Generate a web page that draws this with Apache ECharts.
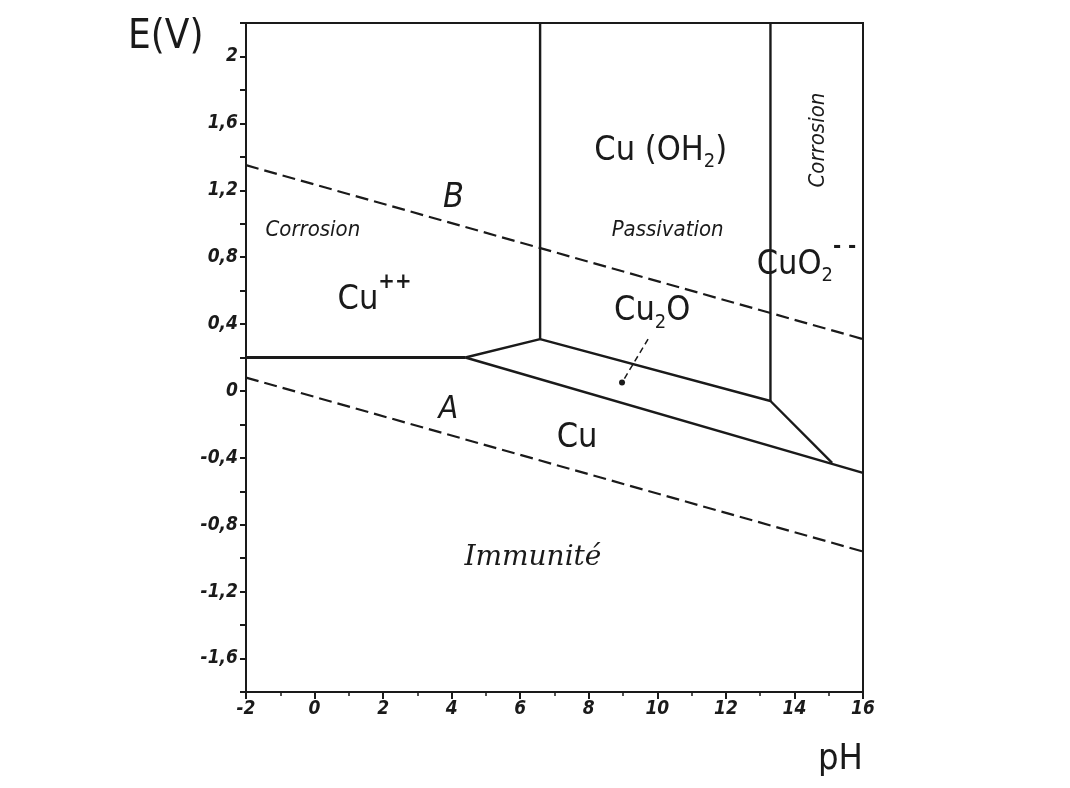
<!DOCTYPE html>
<html><head><meta charset="utf-8">
<script src="https://cdn.jsdelivr.net/npm/echarts@6/dist/echarts.min.js"></script>
<style>html,body{margin:0;padding:0;background:#fff}#c{width:1070px;height:788px}</style>
</head><body><div id="c"></div>
<script>
// ---- data (pH, E in volts) ----
const phTicks = [-2, 0, 2, 4, 6, 8, 10, 12, 14, 16];
const eTicks = [-1.6, -1.2, -0.8, -0.4, 0, 0.4, 0.8, 1.2, 1.6, 2];
const lineB = [[-2, 1.35], [16, 0.31]];
const lineA = [[-2, 0.08], [16, -0.96]];
const cuIonBoundary = [[-2, 0.20], [4.4, 0.20]];
const cu2oUpper = [[4.4, 0.20], [6.58, 0.31], [13.3, -0.06], [15.1, -0.43]];
const cuLower = [[4.4, 0.20], [16, -0.49]];
const verticalOH = [[6.58, 0.31], [6.58, 2.2]];
const verticalCuO2 = [[13.3, -0.06], [13.3, 2.2]];
const cu2oLeader = [[9.73, 0.31], [8.97, 0.05]];
const regionLabels = [
  ['B', 4.05, 1.15],
  ['A', 3.9, -0.11],
  ['Corrosion', -0.05, 0.96],
  ['Cu++', 1.75, 0.55],
  ['Cu(OH2)', 10.1, 1.44],
  ['Passivation', 10.3, 0.96],
  ['CorrosionV', 14.69, 1.5],
  ['CuO2--', 14.35, 0.76],
  ['Cu2O', 9.85, 0.48],
  ['Cu', 7.66, -0.28],
  ['Immunité', 6.37, -1.0]
];
</script>
<script>
const FONT = "'DejaVu Sans Condensed', 'Liberation Sans Narrow', 'DejaVu Sans', sans-serif";
const INK = '#1a1a1a';
const chart = echarts.init(document.getElementById('c'));

function fmtE(v) {
  const r = Math.round(v / 0.4);
  if (Math.abs(r * 0.4 - v) > 1e-6) return '';
  const val = Math.round(r * 0.4 * 10) / 10;
  if (!eTicks.some(t => Math.abs(t - val) < 1e-6)) return '';
  return Number.isInteger(val) ? String(val) : val.toFixed(1).replace('.', ',');
}

const labelStyles = {
  'B': {formatter: 'B', fontSize: 34, fontStyle: 'italic'},
  'A': {formatter: 'A', fontSize: 32, fontStyle: 'italic'},
  'Corrosion': {formatter: 'Corrosion', fontSize: 22, fontStyle: 'italic'},
  'Cu++': {formatter: '{m|Cu}{sup|++}', fontSize: 34},
  'Cu(OH2)': {formatter: '{m|Cu (OH}{sub|2}{m|)}', fontSize: 34},
  'Passivation': {formatter: 'Passivation', fontSize: 22, fontStyle: 'italic'},
  'CorrosionV': {formatter: 'Corrosion', fontSize: 22, fontStyle: 'italic', rotate: 90},
  'CuO2--': {formatter: '{m|CuO}{sub|2}{sup|- -}', fontSize: 32},
  'Cu2O': {formatter: '{m|Cu}{sub|2}{m|O}', fontSize: 32},
  'Cu': {formatter: 'Cu', fontSize: 34},
  'Immunité': {formatter: 'Immunité', fontSize: 28, fontStyle: 'italic', fontFamily: "'DejaVu Serif', serif"}
};
const rich = {
  m: {fontSize: 34, fontFamily: FONT, color: INK, verticalAlign: 'bottom', lineHeight: 36},
  sup: {fontSize: 22, fontFamily: FONT, color: INK, fontWeight: 'bold', verticalAlign: 'bottom', lineHeight: 22, padding: [0, 0, 24, 0]},
  sub: {fontSize: 20, fontFamily: FONT, color: INK, verticalAlign: 'bottom', lineHeight: 20, padding: [0, 0, -4, 0]}
};

const labelData = regionLabels.map(([key, x, y]) => {
  const s = labelStyles[key];
  return {
    value: [x, y],
    label: Object.assign({show: true, position: 'inside', color: INK, opacity: 1, fontFamily: FONT, rich: rich}, s)
  };
});

function solid(data, w) {
  return {type: 'line', data: data, symbol: 'none', silent: true, animation: false,
    lineStyle: {color: INK, width: w || 2.4}, z: 3};
}
function dashed(data) {
  return {type: 'line', data: data, symbol: 'none', silent: true, animation: false,
    lineStyle: {color: INK, width: 2.2, type: [13, 6]}, z: 3};
}

chart.setOption({
  backgroundColor: '#fff',
  animation: false,
  grid: {left: 246, right: 207, top: 23, bottom: 96, show: true, borderColor: INK, borderWidth: 2, backgroundColor: 'transparent'},
  xAxis: {
    type: 'value', min: -2, max: 16, interval: 2,
    axisLine: {show: true, onZero: false, lineStyle: {color: INK, width: 2}},
    axisTick: {show: true, inside: false, length: 7, lineStyle: {color: INK, width: 2}},
    minorTick: {show: true, splitNumber: 2, length: 4, lineStyle: {color: INK, width: 1.5}},
    splitLine: {show: false},
    axisLabel: {color: INK, fontSize: 19, fontStyle: 'italic', fontWeight: 'bold', fontFamily: FONT, margin: 8,
      formatter: v => phTicks.includes(v) ? String(v) : ''}
  },
  yAxis: {
    type: 'value', min: -1.8, max: 2.2, interval: 0.2,
    axisLine: {show: true, onZero: false, lineStyle: {color: INK, width: 2}},
    axisTick: {show: true, inside: false, length: 6, lineStyle: {color: INK, width: 2}},
    splitLine: {show: false},
    axisLabel: {color: INK, fontSize: 19, fontStyle: 'italic', fontWeight: 'bold', fontFamily: FONT, margin: 8, formatter: fmtE}
  },
  graphic: [
    {type: 'text', left: 128, top: 18, style: {text: 'E(V)', font: '40px ' + FONT, fill: INK}},
    {type: 'text', left: 818, top: 742, style: {text: 'pH', font: '36px ' + FONT, fill: INK}}
  ],
  series: [
    solid(cuIonBoundary, 3.2),
    solid(cu2oUpper),
    solid(cuLower),
    solid(verticalOH),
    solid(verticalCuO2),
    dashed(lineB),
    dashed(lineA),
    {type: 'line', data: cu2oLeader.map((p, i) => ({value: p, symbol: i === 1 ? 'circle' : 'none', symbolSize: 6})),
      showSymbol: true, silent: true, animation: false,
      itemStyle: {color: INK}, lineStyle: {color: INK, width: 1.5, type: [6, 4]}, z: 3},
    {type: 'scatter', data: labelData, symbolSize: 0, silent: true, animation: false, z: 5,
      itemStyle: {opacity: 1}}
  ]
});
</script>
</body></html>
